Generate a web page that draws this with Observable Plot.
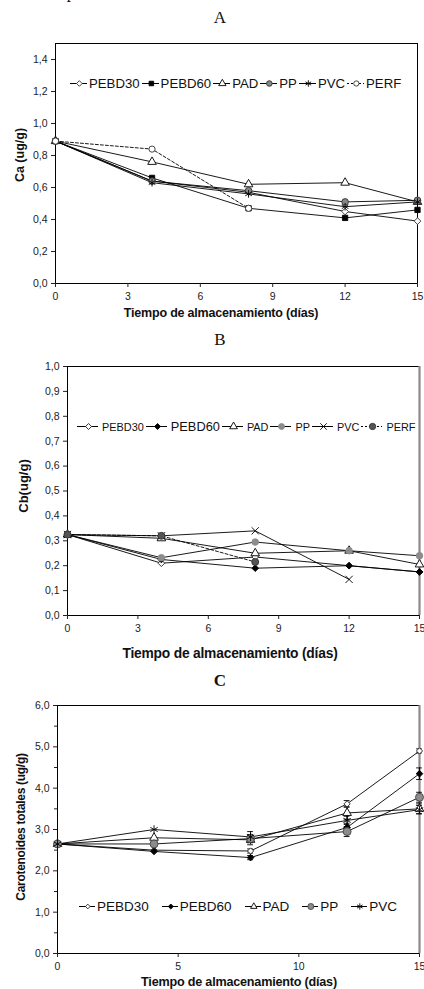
<!DOCTYPE html>
<html><head><meta charset="utf-8">
<script src="https://cdn.jsdelivr.net/npm/d3@7"></script>
<script src="https://cdn.jsdelivr.net/npm/@observablehq/plot@0.6"></script>
<style>
body{margin:0;background:#fff;}
#root{position:relative;width:424px;height:989px;overflow:hidden;font-family:"Liberation Sans",Arial,sans-serif;color:#111;}
.panel{position:absolute;left:0;}
.ptitle{position:absolute;font-family:"Liberation Serif","Times New Roman",serif;transform:translate(-50%,-50%);white-space:nowrap;}
.atitle{position:absolute;font-weight:bold;white-space:nowrap;transform:translate(-50%,-50%);}
.ytitle{position:absolute;font-weight:bold;white-space:nowrap;transform:translate(-50%,-50%) rotate(-90deg);}
.legend{position:absolute;display:flex;align-items:center;white-space:nowrap;transform:translateY(-50%);}
.legend .item{display:flex;align-items:center;}
.legend svg{display:block;overflow:visible;}
</style></head><body><div id="root"></div><script>
// ---------- data ----------
const days = [0, 4, 8, 12, 15];
const xTicksAB = [0, 3, 6, 9, 12, 15];
const xTicksC = [0, 5, 10, 15];
const yTicksA = [0, 0.2, 0.4, 0.6, 0.8, 1.0, 1.2, 1.4];
const yTicksB = [0, 0.1, 0.2, 0.3, 0.4, 0.5, 0.6, 0.7, 0.8, 0.9, 1.0];
const yTicksC = [0, 1, 2, 3, 4, 5, 6];
const yMinorC = [0.5, 1.5, 2.5, 3.5, 4.5, 5.5];

const namesA = ["PEBD30", "PEBD60", "PAD", "PP", "PVC", "PERF"];
const namesB = ["PEBD30", "PEBD60", "PAD", "PP", "PVC", "PERF"];
const namesC = ["PEBD30", "PEBD60", "PAD", "PP", "PVC"];

// Ca (ug/g)
const caPEBD30 = [0.89, 0.64, 0.57, 0.45, 0.39];
const caPEBD60 = [0.89, 0.66, 0.47, 0.41, 0.46];
const caPAD    = [0.89, 0.76, 0.62, 0.63, 0.51];
const caPP     = [0.89, 0.64, 0.58, 0.51, 0.52];
const caPVC    = [0.89, 0.63, 0.56, 0.48, 0.51];
const caPERF   = [0.89, 0.84, 0.47, null, null];

// Cb (ug/g)
const cbPEBD30 = [0.325, 0.21, 0.235, 0.20, 0.175];
const cbPEBD60 = [0.325, 0.225, 0.19, 0.20, 0.175];
const cbPAD    = [0.325, 0.31, 0.25, 0.26, 0.205];
const cbPP     = [0.325, 0.232, 0.295, 0.26, 0.24];
const cbPVC    = [0.325, 0.32, 0.34, 0.145, null];
const cbPERF   = [0.325, 0.32, 0.215, null, null];

// Carotenoides totales (ug/g) and error bars
const ctPEBD30 = [2.65, 2.50, 2.48, 3.62, 4.90];
const ctPEBD60 = [2.65, 2.47, 2.32, 3.05, 4.35];
const ctPAD    = [2.65, 2.80, 2.75, 3.40, 3.50];
const ctPP     = [2.65, 2.65, 2.78, 2.95, 3.78];
const ctPVC    = [2.65, 3.00, 2.82, 3.22, 3.48];
const errPEBD30 = [0, 0, 0.05, 0.08, 0.05];
const errPEBD60 = [0, 0, 0.05, 0.10, 0.14];
const errPAD    = [0, 0, 0.12, 0.15, 0.12];
const errPP     = [0, 0, 0.10, 0.12, 0.12];
const errPVC    = [0, 0, 0.13, 0.10, 0.10];

// ---------- helpers ----------
const fmt = d => d3.format(".1f")(d).replace(".", ",");
function toRows(names, values, errs) {
  const rows = [];
  names.forEach((name, i) => days.forEach((day, j) => {
    const v = values[i][j];
    if (v != null) rows.push({series: name, day, value: v, err: errs ? errs[i][j] : 0});
  }));
  return rows;
}
const root = document.getElementById("root");
function addDiv(cls, text, css) {
  const d = document.createElement("div");
  d.className = cls; d.textContent = text;
  Object.assign(d.style, css);
  root.appendChild(d);
  return d;
}

const stylesA = {
  PEBD30: {symbol: "diamond2", fill: "#fff", stroke: "#333", r: 3},
  PEBD60: {symbol: "square", fill: "#000", stroke: "#000", r: 3},
  PAD:    {symbol: "triangle", fill: "#fff", stroke: "#000", r: 3.2},
  PP:     {symbol: "circle", fill: "#888", stroke: "#333", r: 3.3},
  PVC:    {symbol: "asterisk", fill: "none", stroke: "#000", r: 3.6},
  PERF:   {symbol: "circle", fill: "#fff", stroke: "#333", r: 3.1, dash: "3,2"}
};
const stylesB = {
  PEBD30: {symbol: "diamond2", fill: "#fff", stroke: "#222", r: 3},
  PEBD60: {symbol: "diamond2", fill: "#000", stroke: "#000", r: 3},
  PAD:    {symbol: "triangle", fill: "#fff", stroke: "#000", r: 3.2},
  PP:     {symbol: "circle", fill: "#8c8c8c", stroke: "#8c8c8c", r: 3.3},
  PVC:    {symbol: "times", fill: "none", stroke: "#000", r: 3.4},
  PERF:   {symbol: "circle", fill: "#555", stroke: "#333", r: 3.5, dash: "3,2"}
};
const stylesC = {
  PEBD30: {symbol: "diamond2", fill: "#fff", stroke: "#222", r: 2.8},
  PEBD60: {symbol: "diamond2", fill: "#000", stroke: "#000", r: 3},
  PAD:    {symbol: "triangle", fill: "#fff", stroke: "#000", r: 3.2},
  PP:     {symbol: "circle", fill: "#8c8c8c", stroke: "#444", r: 4},
  PVC:    {symbol: "asterisk", fill: "none", stroke: "#000", r: 4}
};

function makePanel(cfg) {
  const rows = toRows(cfg.names, cfg.values, cfg.errs);
  const marks = [Plot.frame({stroke: "#000", strokeWidth: 1})];
  if (cfg.grayRight) marks.push(Plot.ruleX([cfg.xDomain[1]], {stroke: "#8a8a8a", strokeWidth: 2.2}));
  cfg.names.forEach(name => {
    const st = cfg.styles[name];
    marks.push(Plot.line(rows.filter(r => r.series === name), {
      x: "day", y: "value", stroke: "#000", strokeWidth: 0.9, strokeDasharray: st.dash || null
    }));
  });
  if (cfg.errs) {
    const e = rows.filter(r => r.err > 0);
    marks.push(Plot.ruleX(e, {x: "day", y1: r => r.value - r.err, y2: r => r.value + r.err, stroke: "#000", strokeWidth: 0.9}));
    marks.push(Plot.ruleY(e, {y: r => r.value + r.err, x1: r => r.day - 0.12, x2: r => r.day + 0.12, stroke: "#000", strokeWidth: 0.9}));
    marks.push(Plot.ruleY(e, {y: r => r.value - r.err, x1: r => r.day - 0.12, x2: r => r.day + 0.12, stroke: "#000", strokeWidth: 0.9}));
  }
  cfg.names.forEach(name => {
    const st = cfg.styles[name];
    marks.push(Plot.dot(rows.filter(r => r.series === name), {
      x: "day", y: "value", symbol: st.symbol, r: st.r, fill: st.fill, stroke: st.stroke, strokeWidth: 0.9
    }));
  });
  marks.push(Plot.axisX({ticks: cfg.xTicks, tickSize: 4, tickPadding: 5, fontSize: cfg.tickFont, label: null}));
  marks.push(Plot.axisY({ticks: cfg.yTicks, tickFormat: fmt, tickSize: 4, tickPadding: 4, fontSize: cfg.tickFont, label: null}));
  if (cfg.yMinor) marks.push(Plot.axisY({ticks: cfg.yMinor, tickFormat: () => "", tickSize: 3, label: null}));
  const svg = Plot.plot({
    width: 424, height: cfg.height,
    marginLeft: cfg.ml, marginRight: cfg.mr, marginTop: cfg.mt, marginBottom: cfg.mb,
    x: {domain: cfg.xDomain},
    y: {domain: cfg.yDomain},
    style: {background: "transparent", fontFamily: "'Liberation Sans', Arial, sans-serif", color: "#222", overflow: "visible"},
    marks
  });
  const wrap = document.createElement("div");
  wrap.className = "panel";
  wrap.style.top = cfg.top + "px";
  wrap.appendChild(svg);
  root.appendChild(wrap);
}

function symbolPath(st, r) {
  const map = {diamond2: d3.symbolDiamond2, square: d3.symbolSquare, triangle: d3.symbolTriangle,
    circle: d3.symbolCircle, asterisk: d3.symbolAsterisk, times: d3.symbolTimes};
  return d3.symbol(map[st.symbol], Math.PI * r * r)();
}
function makeLegend(names, styles, opt) {
  const lg = document.createElement("div");
  lg.className = "legend";
  lg.style.left = opt.x + "px"; lg.style.top = opt.y + "px";
  names.forEach((name, i) => {
    const st = styles[name];
    const it = document.createElement("div");
    it.className = "item";
    if (i > 0) it.style.marginLeft = opt.gap + "px";
    const w = opt.lineW;
    const svg = d3.create("svg").attr("width", w).attr("height", 10);
    svg.append("line").attr("x1", 0).attr("x2", w).attr("y1", 5).attr("y2", 5)
      .attr("stroke", "#000").attr("stroke-width", 1).attr("stroke-dasharray", st.dash ? "2,2" : null);
    svg.append("path").attr("d", symbolPath(st, st.r * opt.symScale)).attr("transform", `translate(${w * 0.55},5)`)
      .attr("fill", st.fill).attr("stroke", st.stroke).attr("stroke-width", 0.9);
    it.appendChild(svg.node());
    const t = document.createElement("span");
    t.textContent = name;
    t.style.fontSize = (opt.fontSizes && opt.fontSizes[name] ? opt.fontSizes[name] : opt.font) + "px";
    t.style.marginLeft = opt.textGap + "px";
    t.style.color = "#111";
    it.appendChild(t);
    lg.appendChild(it);
  });
  root.appendChild(lg);
}

// ---------- panel A ----------
addDiv("ptitle", "p", {left: "71px", top: "-7px", fontSize: "17px"});
addDiv("ptitle", "A", {left: "220px", top: "18px", fontSize: "17px"});
makePanel({top: 0, height: 330, ml: 55, mr: 7, mt: 43, mb: 47, xDomain: [0, 15], yDomain: [0, 1.5],
  xTicks: xTicksAB, yTicks: yTicksA, tickFont: 10.5, names: namesA, styles: stylesA,
  values: [caPEBD30, caPEBD60, caPAD, caPP, caPVC, caPERF]});
addDiv("atitle", "Tiempo de almacenamiento (días)", {left: "221px", top: "313px", fontSize: "12.5px", letterSpacing: "-0.2px"});
addDiv("ytitle", "Ca (ug/g)", {left: "20px", top: "155px", fontSize: "12.5px"});
makeLegend(namesA, stylesA, {x: 70, y: 83, lineW: 17, gap: 2, textGap: 2, font: 13.2, symScale: 0.85});

// ---------- panel B ----------
addDiv("ptitle", "B", {left: "220px", top: "340px", fontSize: "17px"});
makePanel({top: 330, height: 330, ml: 67, mr: 5, mt: 36, mb: 45, xDomain: [0, 15], yDomain: [0, 1],
  xTicks: xTicksAB, yTicks: yTicksB, tickFont: 10.5, names: namesB, styles: stylesB, grayRight: true,
  values: [cbPEBD30, cbPEBD60, cbPAD, cbPP, cbPVC, cbPERF]});
addDiv("atitle", "Tiempo de almacenamiento (días)", {left: "230px", top: "653px", fontSize: "13.8px", letterSpacing: "-0.2px"});
addDiv("ytitle", "Cb(ug/g)", {left: "23px", top: "486px", fontSize: "13px"});
makeLegend(namesB, stylesB, {x: 77, y: 426, lineW: 21, gap: 2, textGap: 4, font: 10.9, fontSizes: {PEBD60: 12.8}, symScale: 0.9});

// ---------- panel C ----------
addDiv("ptitle", "C", {left: "220px", top: "681px", fontSize: "17px", fontWeight: "bold"});
makePanel({top: 660, height: 329, ml: 57, mr: 5, mt: 45, mb: 36, xDomain: [0, 15], yDomain: [0, 6],
  xTicks: xTicksC, yTicks: yTicksC, yMinor: yMinorC, tickFont: 10.5, names: namesC, styles: stylesC, grayRight: true,
  values: [ctPEBD30, ctPEBD60, ctPAD, ctPP, ctPVC],
  errs: [errPEBD30, errPEBD60, errPAD, errPP, errPVC]});
addDiv("atitle", "Tiempo de almacenamiento (días)", {left: "239px", top: "982px", fontSize: "12.6px", letterSpacing: "-0.2px"});
addDiv("ytitle", "Carotenoides totales (ug/g)", {left: "21px", top: "827px", fontSize: "12px", letterSpacing: "-0.3px"});
makeLegend(namesC, stylesC, {x: 79, y: 906, lineW: 16, gap: 13, textGap: 2, font: 13.5, symScale: 0.75});
</script></body></html>
